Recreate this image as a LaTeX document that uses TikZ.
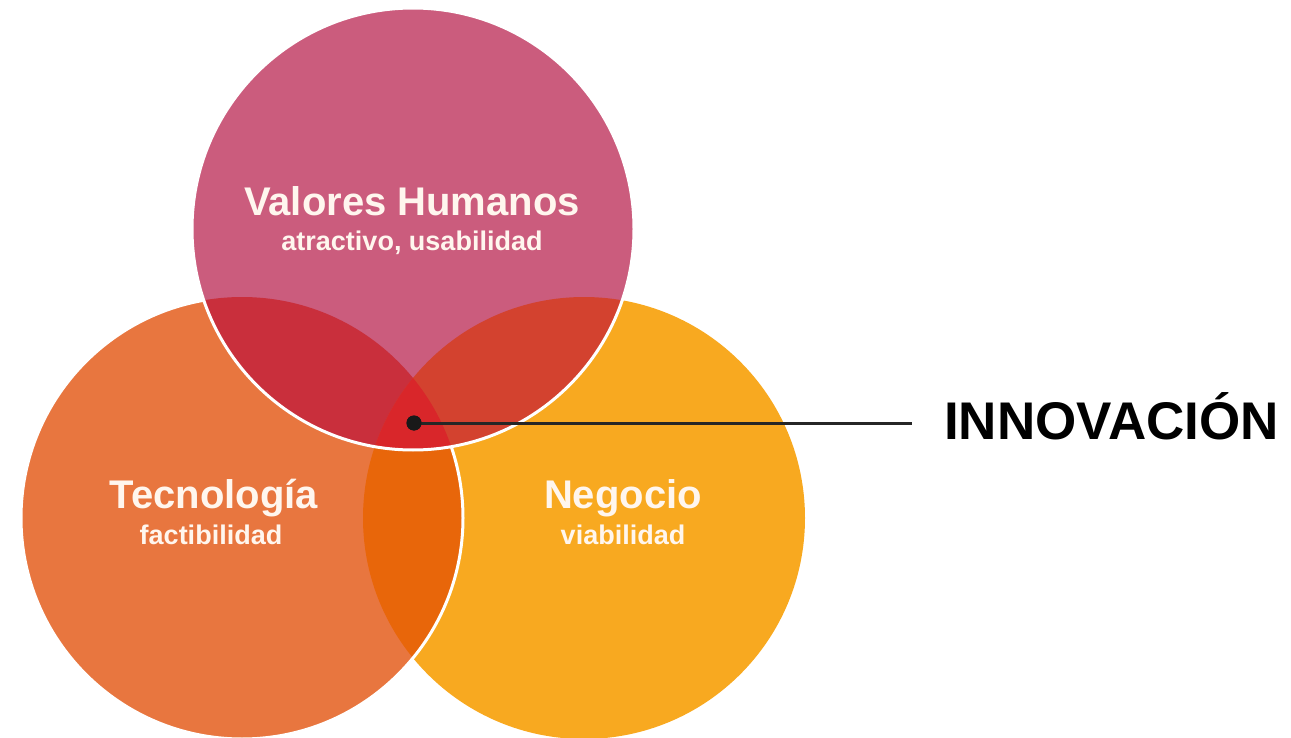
\documentclass[tikz,border=0pt]{standalone}
\usepackage{fontspec}
\setmainfont{Liberation Sans}
\definecolor{cTop}{HTML}{CB5C7D}
\definecolor{cLeft}{HTML}{E8763F}
\definecolor{cRight}{HTML}{F8A920}
\definecolor{cTL}{HTML}{C92F3C}
\definecolor{cTR}{HTML}{D3422F}
\definecolor{cLR}{HTML}{E8660A}
\definecolor{cTLR}{HTML}{D9262A}
\definecolor{cText}{HTML}{FFF6EE}
\tikzset{
  title/.style={text=cText, font=\bfseries\fontsize{40}{45}\selectfont, anchor=base, inner sep=0pt},
  subtitle/.style={text=cText, font=\bfseries\fontsize{27}{31}\selectfont, anchor=base, inner sep=0pt},
  rim/.style={draw=white, line width=3pt},
  dotmark/.style={circle, fill=black!90, inner sep=0pt, minimum size=15pt},
  pointer/.style={draw=black!85, line width=3pt},
}
\begin{document}
\begin{tikzpicture}[x=1pt,y=-1pt]
\useasboundingbox (0,0) rectangle (1291,738);
\def\R{221}
% right circle (Negocio)
\fill[cRight] (584,518) circle (\R);
% left circle (Tecnologia)
\fill[cLeft] (242,518) circle (\R);
\begin{scope}
  \clip (242,518) circle (\R);
  \fill[cLR] (584,518) circle (\R);
\end{scope}
\draw[rim] (242,518) circle (\R);
% top circle (Valores Humanos)
\fill[cTop] (413,229) circle (\R);
\begin{scope}
  \clip (413,229) circle (\R);
  \fill[cTL] (242,518) circle (\R);
  \fill[cTR] (584,518) circle (\R);
  \clip (242,518) circle (\R);
  \fill[cTLR] (584,518) circle (\R);
\end{scope}
\draw[rim] (413,229) circle (\R);
% labels
\node[title] (vh) at (412,216) {Valores Humanos};
\node[subtitle] (vhs) at (412,251) {atractivo, usabilidad};
\node[title] (tec) at (214,508) {Tecnología};
\node[subtitle] (tecs) at (211,544) {factibilidad};
\node[title] (neg) at (623,508) {Negocio};
\node[subtitle] (negs) at (623,544) {viabilidad};
% pointer
\node[dotmark] (dot) at (414,423) {};
\coordinate (lineend) at (912,423);
\draw[pointer] (dot.center) -- (lineend);
\node[dotmark] at (dot.center) {};
\node[anchor=base west, inner sep=0pt, font=\bfseries\fontsize{53}{58}\selectfont] (inn) at (944,439) {INNOVACIÓN};
\end{tikzpicture}
\end{document}
